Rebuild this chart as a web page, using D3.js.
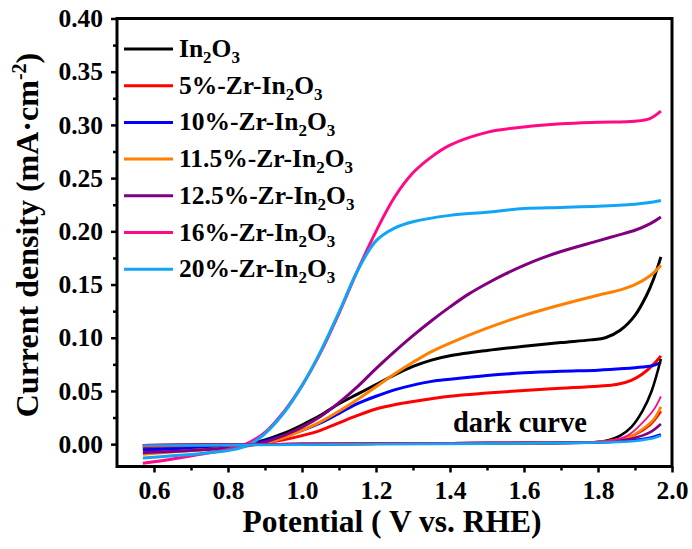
<!DOCTYPE html>
<html>
<head>
<meta charset="utf-8">
<script src="https://cdn.jsdelivr.net/npm/d3@7"></script>
<style>
  body { margin: 0; background: #fff; }
</style>
</head>
<body>
<div id="chart"></div>
<script>
// light (illuminated) LSV curves, [potential V, current mA/cm2]
var in2o3 = [[0.57,-0.004],[0.65,-0.0035],[0.75,-0.003],[0.82,-0.002],[0.9,0.004],[0.95,0.010],[1.0,0.018],[1.05,0.027],[1.1,0.038],[1.15,0.047],[1.2,0.056],[1.25,0.065],[1.3,0.073],[1.35,0.079],[1.4,0.083],[1.5,0.088],[1.6,0.092],[1.7,0.0955],[1.78,0.098],[1.82,0.100],[1.86,0.107],[1.9,0.121],[1.93,0.139],[1.95,0.155],[1.97,0.176]];
var zr5 = [[0.57,-0.003],[0.7,-0.0025],[0.82,-0.002],[0.9,0.001],[0.95,0.004],[1.0,0.008],[1.05,0.013],[1.1,0.020],[1.15,0.027],[1.2,0.033],[1.25,0.037],[1.3,0.040],[1.4,0.045],[1.5,0.048],[1.6,0.0505],[1.7,0.0525],[1.8,0.0545],[1.85,0.056],[1.89,0.060],[1.92,0.066],[1.95,0.075],[1.97,0.083]];
var zr10 = [[0.57,-0.0055],[0.7,-0.004],[0.82,-0.0025],[0.9,0.003],[0.95,0.008],[1.0,0.013],[1.05,0.020],[1.1,0.029],[1.15,0.038],[1.2,0.045],[1.25,0.051],[1.3,0.0555],[1.35,0.059],[1.4,0.061],[1.5,0.0645],[1.6,0.067],[1.7,0.0685],[1.8,0.0695],[1.87,0.071],[1.92,0.0725],[1.95,0.074],[1.97,0.077]];
var zr115 = [[0.57,-0.0095],[0.7,-0.006],[0.82,-0.003],[0.9,0.001],[0.95,0.006],[1.0,0.013],[1.05,0.021],[1.1,0.031],[1.15,0.042],[1.2,0.054],[1.25,0.066],[1.3,0.077],[1.35,0.087],[1.4,0.095],[1.5,0.109],[1.6,0.121],[1.7,0.131],[1.8,0.140],[1.85,0.144],[1.9,0.150],[1.94,0.158],[1.97,0.168]];
var zr125 = [[0.57,-0.008],[0.7,-0.006],[0.82,-0.003],[0.9,0.002],[0.95,0.008],[1.0,0.016],[1.05,0.026],[1.1,0.039],[1.15,0.054],[1.2,0.071],[1.25,0.087],[1.3,0.102],[1.35,0.116],[1.4,0.129],[1.45,0.141],[1.5,0.151],[1.55,0.160],[1.6,0.168],[1.65,0.175],[1.7,0.181],[1.8,0.191],[1.85,0.196],[1.9,0.201],[1.94,0.207],[1.97,0.2135]];
var zr16 = [[0.57,-0.018],[0.65,-0.014],[0.75,-0.008],[0.8,-0.005],[0.83,-0.002],[0.86,0.002],[0.9,0.011],[0.95,0.030],[1.0,0.055],[1.05,0.086],[1.1,0.123],[1.15,0.163],[1.2,0.200],[1.25,0.232],[1.3,0.255],[1.35,0.270],[1.4,0.281],[1.5,0.293],[1.6,0.298],[1.7,0.301],[1.8,0.3025],[1.9,0.3035],[1.94,0.306],[1.97,0.313]];
var zr20 = [[0.57,-0.013],[0.65,-0.011],[0.75,-0.008],[0.8,-0.006],[0.83,-0.004],[0.86,0.000],[0.9,0.010],[0.95,0.029],[1.0,0.055],[1.05,0.087],[1.1,0.124],[1.15,0.163],[1.2,0.191],[1.25,0.203],[1.3,0.209],[1.4,0.215],[1.5,0.218],[1.6,0.2215],[1.7,0.2225],[1.8,0.2235],[1.9,0.2255],[1.94,0.227],[1.97,0.229]];

// dark curves
var darkIn2o3 = [[0.57,-0.001],[1.0,0.0],[1.5,0.001],[1.8,0.002],[1.83,0.004],[1.86,0.008],[1.89,0.016],[1.92,0.031],[1.945,0.050],[1.97,0.080]];
var darkZr5 = [[0.57,-0.001],[1.0,0.0],[1.5,0.001],[1.8,0.002],[1.85,0.004],[1.9,0.009],[1.94,0.018],[1.97,0.031]];
var darkZr10 = [[0.57,-0.001],[1.0,0.0],[1.5,0.001],[1.8,0.0015],[1.85,0.0025],[1.9,0.004],[1.94,0.006],[1.97,0.009]];
var darkZr115 = [[0.57,-0.001],[1.0,0.0],[1.5,0.001],[1.8,0.002],[1.83,0.003],[1.88,0.006],[1.92,0.014],[1.95,0.023],[1.97,0.035]];
var darkZr125 = [[0.57,-0.001],[1.0,0.0],[1.5,0.001],[1.8,0.002],[1.85,0.003],[1.9,0.006],[1.94,0.011],[1.97,0.019]];
var darkZr16 = [[0.57,-0.001],[1.0,0.0],[1.5,0.001],[1.8,0.002],[1.83,0.003],[1.88,0.008],[1.92,0.020],[1.95,0.032],[1.97,0.045]];
var darkZr20 = [[0.57,-0.0015],[1.0,-0.0005],[1.5,0.0005],[1.8,0.0015],[1.85,0.002],[1.9,0.003],[1.94,0.005],[1.97,0.008]];

var names = ["In2O3", "5%-Zr-In2O3", "10%-Zr-In2O3", "11.5%-Zr-In2O3", "12.5%-Zr-In2O3", "16%-Zr-In2O3", "20%-Zr-In2O3"];
var colors = ["#000000", "#ff0000", "#0000ff", "#ff8000", "#800080", "#ff0a84", "#12a4f5"];
var lightSeries = [in2o3, zr5, zr10, zr115, zr125, zr16, zr20];
var darkSeries = [darkIn2o3, darkZr5, darkZr10, darkZr115, darkZr125, darkZr16, darkZr20];

var xTicks = [0.6, 0.8, 1.0, 1.2, 1.4, 1.6, 1.8, 2.0];
var yTicks = [0.00, 0.05, 0.10, 0.15, 0.20, 0.25, 0.30, 0.35, 0.40];

var width = 692, height = 549;
var serif = "'Liberation Serif', Tinos, 'Times New Roman', Times, 'DejaVu Serif', serif";

var svg = d3.select("#chart").append("svg")
    .attr("width", width)
    .attr("height", height)
    .attr("font-family", serif)
    .attr("font-weight", "bold");

var x = d3.scaleLinear().domain([0.5, 2.0]).range([117, 672]);
var y = d3.scaleLinear().domain([-0.021, 0.40]).range([466.5, 18.5]);

var line = d3.line()
    .x(d => x(d[0]))
    .y(d => y(d[1]))
    .curve(d3.curveCatmullRom.alpha(0.5));

// curves
var curves = svg.append("g");
lightSeries.forEach(function(s, i) {
    curves.append("path")
        .attr("d", line(s))
        .attr("fill", "none")
        .attr("stroke", colors[i])
        .attr("stroke-width", 3);
});
darkSeries.forEach(function(s, i) {
    curves.append("path")
        .attr("d", line(s))
        .attr("fill", "none")
        .attr("stroke", colors[i])
        .attr("stroke-width", i == 5 ? 1.8 : 2.6);
});

// minor ticks
var xMinor = d3.range(0.7, 2.0, 0.2);
var yMinor = d3.range(0.025, 0.4, 0.05);

svg.append("g")
    .attr("transform", "translate(0," + y.range()[0] + ")")
    .call(d3.axisBottom(x).tickValues(xTicks).tickFormat(d3.format(".1f")).tickSize(6).tickPadding(8).tickSizeOuter(0));
svg.append("g")
    .attr("transform", "translate(0," + y.range()[0] + ")")
    .call(d3.axisBottom(x).tickValues(xMinor).tickFormat("").tickSize(4).tickSizeOuter(0));

svg.append("g")
    .attr("transform", "translate(" + x.range()[0] + ",0)")
    .call(d3.axisLeft(y).tickValues(yTicks).tickFormat(d3.format(".2f")).tickSize(6).tickPadding(8).tickSizeOuter(0));
svg.append("g")
    .attr("transform", "translate(" + x.range()[0] + ",0)")
    .call(d3.axisLeft(y).tickValues(yMinor).tickFormat("").tickSize(4).tickSizeOuter(0));

svg.selectAll(".domain").remove();
svg.selectAll(".tick line").attr("stroke", "#000").attr("stroke-width", 2.5);
svg.selectAll(".tick text")
    .attr("font-size", 25.5)
    .attr("font-family", serif)
    .attr("fill", "#000");
svg.selectAll("g").attr("font-family", serif);

// frame
svg.append("rect")
    .attr("x", x.range()[0])
    .attr("y", y.range()[1])
    .attr("width", x.range()[1] - x.range()[0])
    .attr("height", y.range()[0] - y.range()[1])
    .attr("fill", "none")
    .attr("stroke", "#000")
    .attr("stroke-width", 3);

// legend
var legend = svg.append("g");
names.forEach(function(n, i) {
    var ly = 49 + i * 36.7;
    legend.append("line")
        .attr("x1", 124).attr("x2", 173)
        .attr("y1", ly).attr("y2", ly)
        .attr("stroke", colors[i])
        .attr("stroke-width", 3);
    var t = legend.append("text")
        .attr("x", 179)
        .attr("y", ly + 8)
        .attr("font-size", 25.5)
        .attr("font-family", serif)
        .attr("fill", "#000");
    var pre = n.replace("In2O3", "");
    t.append("tspan").text(pre + "In");
    t.append("tspan").attr("font-size", 17).attr("dy", 6).text("2");
    t.append("tspan").attr("dy", -6).text("O");
    t.append("tspan").attr("font-size", 17).attr("dy", 6).text("3");
});

svg.append("text")
    .attr("x", 453)
    .attr("y", 432)
    .attr("font-size", 28.5)
    .attr("font-family", serif)
    .attr("fill", "#000")
    .text("dark curve");

// axis titles
svg.append("text")
    .attr("x", 392)
    .attr("y", 532)
    .attr("text-anchor", "middle")
    .attr("font-size", 31.5)
    .attr("font-family", serif)
    .attr("fill", "#000")
    .text("Potential ( V vs. RHE)");

var yt = svg.append("text")
    .attr("transform", "translate(38,235) rotate(-90)")
    .attr("text-anchor", "middle")
    .attr("font-size", 32)
    .attr("font-family", serif)
    .attr("fill", "#000");
yt.append("tspan").text("Current density (mA\u00b7cm");
yt.append("tspan").attr("font-size", 20).attr("dy", -12).text("-2");
yt.append("tspan").attr("dy", 12).text(")");
</script>
</body>
</html>
